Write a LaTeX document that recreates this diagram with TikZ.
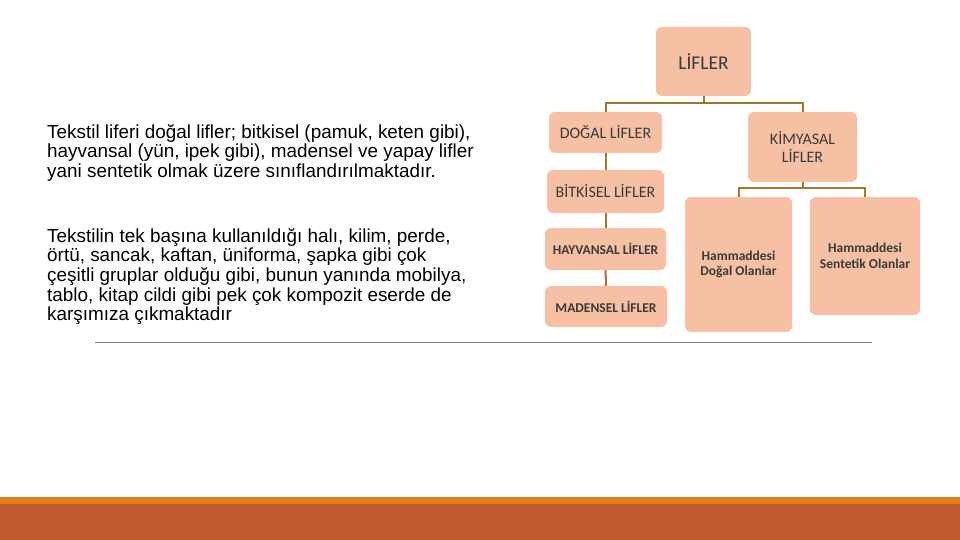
\documentclass[tikz,border=0pt]{standalone}
\usepackage{fontspec}
\setmainfont{Liberation Sans}
\newfontfamily\boxfont{Carlito}
\usepackage{xcolor}
\usetikzlibrary{positioning}
\definecolor{boxfill}{HTML}{F6C0A4}
\definecolor{boxline}{HTML}{A5742E}
\definecolor{bandtop}{HTML}{E08119}
\definecolor{bandbot}{HTML}{BE5A2D}
\definecolor{boxtext}{HTML}{3A3A3A}

\begin{document}
\begin{tikzpicture}[
  x=1pt, y=-1pt,
  box/.style  ={fill=boxfill,rounded corners=6pt,align=center,inner sep=2pt,
                text=boxtext,font=\boxfont\fontsize{16}{17.5}\selectfont},
  bbox/.style ={box,font=\boxfont\bfseries\fontsize{13.5}{15.5}\selectfont},
  txt/.style  ={align=left,anchor=north west,inner sep=0pt,
                font=\fontsize{18.9}{19.7}\selectfont},
  link/.style ={draw=boxline,line width=2pt}]

\useasboundingbox (0,0) rectangle (960,540);

% ---------- left text ----------
\node[txt] (p1) at (47,124)
  {Tekstil liferi doğal lifler; bitkisel (pamuk, keten gibi),\\
   hayvansal (yün, ipek gibi), madensel ve yapay lifler\\
   yani sentetik olmak üzere sınıflandırılmaktadır.};
\node[txt] (p2) at (47,228)
  {Tekstilin tek başına kullanıldığı halı, kilim, perde,\\
   örtü, sancak, kaftan, üniforma, şapka gibi çok\\
   çeşitli gruplar olduğu gibi, bunun yanında mobilya,\\
   tablo, kitap cildi gibi pek çok kompozit eserde de\\
   karşımıza çıkmaktadır};

% ---------- tree ----------
\node[box,minimum width=95pt,minimum height=69pt,
      font=\boxfont\fontsize{19.5}{21}\selectfont] (lif) at (703.5,61.5) {LİFLER};
\node[box,minimum width=113pt,minimum height=41pt] (dog) at (605.5,132.5) {DOĞAL LİFLER};
\node[box,minimum width=109pt,minimum height=70pt] (kim) at (802.5,147) {KİMYASAL\\LİFLER};
\node[box,minimum width=117pt,minimum height=43pt] (bit) at (605.5,191.5) {BİTKİSEL LİFLER};
\node[bbox,minimum width=121pt,minimum height=42pt] (hay) at (605.5,249) {HAYVANSAL LİFLER};
\node[bbox,minimum width=122pt,minimum height=41pt] (mad) at (606,306.5) {MADENSEL LİFLER};
\node[bbox,minimum width=107pt,minimum height=135pt] (hdo) at (738.5,264.5) {Hammaddesi\\Doğal Olanlar};
\node[bbox,minimum width=110pt,minimum height=118pt] (hse) at (865,256) {Hammaddesi\\Sentetik Olanlar};

\begin{scope}[link]
\draw (lif.south) -- ++(0,7) -| (dog.north);
\draw (lif.south) -- ++(0,7) -| (kim.north);
\draw (dog) -- (bit);
\draw (bit) -- (hay);
\draw (hay) -- (mad);
\draw (kim.south) -- ++(0,6) -| (hdo.north);
\draw (kim.south) -- ++(0,6) -| (hse.north);
\end{scope}

% ---------- rule and bands ----------
\draw[gray,line width=1pt] (95,342) -- (872,342);
\fill[bandtop] (0,497) rectangle (960,504);
\fill[bandbot] (0,504) rectangle (960,540);

\end{tikzpicture}
\end{document}
